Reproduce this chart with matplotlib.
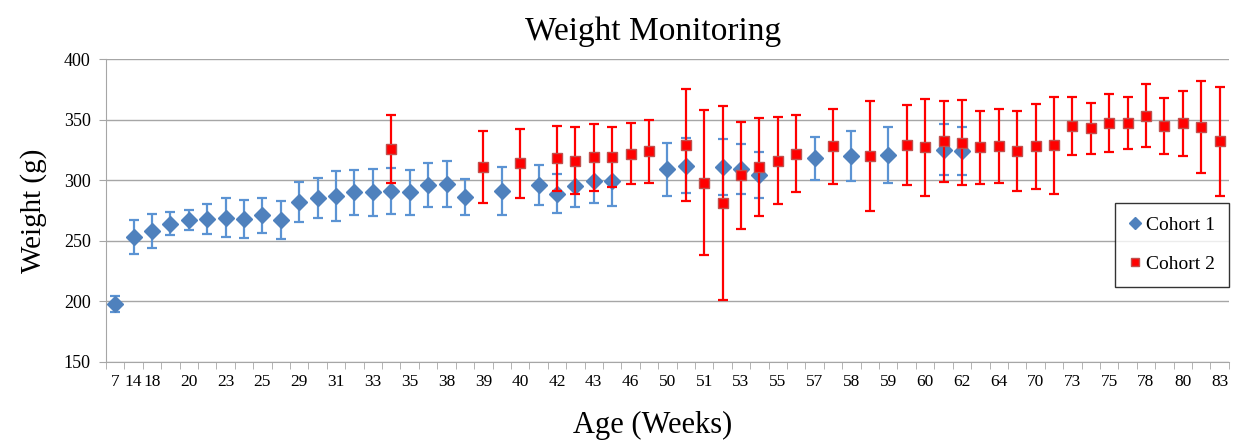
import numpy as np
import matplotlib
matplotlib.use("Agg")
import matplotlib.pyplot as plt

# category labels shown on the x axis (index -> age in weeks)
label_idx = [0, 1, 2, 4, 6, 8, 10, 12, 14, 16, 18, 20, 22, 24, 26, 28, 30,
             32, 34, 36, 38, 40, 42, 44, 46, 48, 50, 52, 54, 56, 58, 60]
label_txt = ["7", "14", "18", "20", "23", "25", "29", "31", "33", "35", "38",
             "39", "40", "42", "43", "46", "50", "51", "53", "55", "57", "58",
             "59", "60", "62", "64", "70", "73", "75", "78", "80", "83"]
n_cat = 61

# cohort 1 mean weight and error, by category index
c1_idx = [0, 1, 2, 3, 4, 5, 6, 7, 8, 9, 10, 11, 12, 13, 14, 15, 16, 17, 18, 19,
          21, 23, 24, 25, 26, 27, 30, 31, 33, 34, 35, 38, 40, 42, 45, 46]
c1_mean = [198, 253, 258, 264, 267, 268, 269, 268, 271, 267, 282, 285, 287, 290,
           290, 291, 290, 296, 297, 286,
           291, 296, 289, 295, 299, 299, 309, 312, 311, 309, 304, 318, 320, 321,
           325, 324]
c1_err = [6.5, 14, 14, 9.5, 8.5, 12, 16, 16, 14.5, 15.5, 16.5, 16.5, 20.5, 18.5,
          19.5, 19, 18.5, 18, 19, 15,
          20, 16.5, 16, 17.5, 17.5, 20, 22, 22.5, 23, 20.5, 19, 17.5, 21, 23,
          21, 20]

# cohort 2 mean weight and error, by category index
c2_idx = [15, 20, 22, 24, 25, 26, 27, 28, 29, 31, 32, 33, 34, 35, 36, 37, 39,
          41, 43, 44, 45, 46, 47, 48, 49, 50, 51, 52, 53, 54, 55, 56, 57, 58,
          59, 60]
c2_mean = [326, 311, 314, 318, 316, 319, 319, 322, 324, 329, 298, 281, 304, 311,
           316, 322, 328, 320, 329, 327, 332, 331, 327, 328, 324, 328, 329, 345,
           343, 347, 347, 353, 345, 347, 344, 332]
c2_err = [28, 29.5, 28.5, 27, 27.5, 27.5, 25, 25.5, 26, 46.5, 60, 80, 44, 40.5,
          36, 31.5, 31, 45, 33, 40, 33.5, 35, 30.5, 30.5, 33, 35, 40, 24, 21,
          24, 21.5, 26, 23, 27, 38, 45]

plt.rcParams["font.family"] = ["Liberation Serif", "DejaVu Serif"]

fig = plt.figure(figsize=(12.35, 4.42), dpi=100)
ax = fig.add_axes([0.0858, 0.181, 0.9092, 0.6855])

blue = "#4F81BD"
blue_err = "#5B93D3"
red = "#FF0000"

ax.errorbar(c1_idx, c1_mean, yerr=c1_err, fmt="none", ecolor=blue_err,
            elinewidth=1.6, capsize=3.5, capthick=1.6, zorder=3)
ax.plot(c1_idx, c1_mean, linestyle="none", marker="D", markersize=8.5,
        color=blue, markeredgecolor=blue, label="Cohort 1", zorder=4)

ax.errorbar(c2_idx, c2_mean, yerr=c2_err, fmt="none", ecolor=red,
            elinewidth=1.6, capsize=3.5, capthick=1.6, zorder=5)
ax.plot(c2_idx, c2_mean, linestyle="none", marker="s", markersize=7.5,
        color=red, markeredgecolor="#C0504D", markeredgewidth=1.0,
        label="Cohort 2", zorder=6)

ax.set_xlim(-0.5, n_cat - 0.5)
ax.set_ylim(150, 400)
ax.set_yticks(np.arange(150, 401, 50))
ax.yaxis.grid(True, color="#A6A6A6", linewidth=1.0)
ax.set_axisbelow(True)

ax.set_xticks(label_idx)
ax.set_xticklabels(label_txt)
ax.set_xticks(np.arange(-0.5, n_cat, 1), minor=True)
ax.tick_params(axis="x", which="major", length=0, labelsize=12.5, pad=9)
ax.tick_params(axis="x", which="minor", length=5, color="#A6A6A6", direction="out")
ax.tick_params(axis="y", length=5, color="#A6A6A6", labelsize=13, pad=6)

for s in ["top", "right"]:
    ax.spines[s].set_visible(False)
for s in ["left", "bottom"]:
    ax.spines[s].set_color("#A6A6A6")

ax.set_title("Weight Monitoring", fontsize=24, pad=14, x=0.487)
ax.set_xlabel("Age (Weeks)", fontsize=22, labelpad=15, x=0.487)
ax.set_ylabel("Weight (g)", fontsize=21, labelpad=12)

leg = ax.legend(loc="upper right", bbox_to_anchor=(1.0, 0.525), fontsize=14,
                frameon=True, fancybox=False, edgecolor="black",
                markerscale=0.75, handlelength=0.6, handletextpad=0.3,
                labelspacing=1.1, borderpad=0.7, borderaxespad=0)
leg.get_frame().set_linewidth(1.0)

fig.savefig("out.png", dpi=100)
